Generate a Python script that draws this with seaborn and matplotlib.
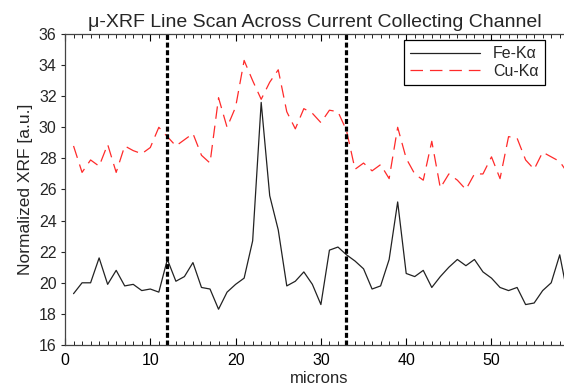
import numpy as np
import pandas as pd
import matplotlib
matplotlib.use("Agg")
import matplotlib.pyplot as plt
import seaborn as sns
from matplotlib.ticker import MultipleLocator

# ---- data ----
microns = list(range(1, 60))
fe_ka = [19.3, 20.0, 20.0, 21.6, 19.9, 20.8, 19.8, 19.9, 19.5, 19.6,
         19.4, 21.5, 20.1, 20.4, 21.3, 19.7, 19.6, 18.3, 19.4, 19.9,
         20.3, 22.7, 31.6, 25.6, 23.4, 19.8, 20.1, 20.7, 19.9, 18.6,
         22.1, 22.3, 21.8, 21.4, 20.9, 19.6, 19.8, 21.5, 25.2, 20.6,
         20.4, 20.8, 19.7, 20.4, 21.0, 21.5, 21.1, 21.5, 20.7, 20.3,
         19.7, 19.5, 19.7, 18.6, 18.7, 19.5, 20.0, 21.8, 19.0]
cu_ka = [28.8, 27.1, 27.9, 27.5, 28.9, 27.1, 28.8, 28.5, 28.3, 28.7,
         30.0, 29.4, 28.8, 29.2, 29.6, 28.2, 27.7, 31.9, 30.0, 31.3,
         34.3, 33.0, 31.8, 32.9, 33.7, 31.0, 29.9, 31.2, 30.9, 30.3,
         31.1, 31.0, 29.8, 27.3, 27.7, 27.2, 27.6, 26.7, 30.0, 28.0,
         27.0, 26.6, 29.1, 26.1, 27.0, 26.6, 26.0, 27.0, 27.0, 28.1,
         26.7, 29.4, 29.3, 27.9, 27.3, 28.4, 28.1, 27.8, 27.0]
series_names = ["Fe-K\u03b1", "Cu-K\u03b1"]
channel_edges = [12, 33]
title = "\u03bc-XRF Line Scan Across Current Collecting Channel"
x_label = "microns"
y_label = "Normalized XRF [a.u.]"

sns.set_theme(style="white")
plt.rcParams["font.family"] = ["Liberation Sans", "DejaVu Sans"]
plt.rcParams["lines.scale_dashes"] = False

fig = plt.figure(figsize=(5.64, 3.85), dpi=100)
W, H = 564, 385
left, right, top, bottom = 65, 564, 34, 345
ax = fig.add_axes([left / W, (H - bottom) / H, (right - left) / W, (bottom - top) / H])

df_fe = pd.DataFrame({"x": microns, "y": fe_ka})
df_cu = pd.DataFrame({"x": microns, "y": cu_ka})

sns.lineplot(data=df_fe, x="x", y="y", ax=ax, color="#222222", linewidth=0.9,
             estimator=None, sort=False, label=series_names[0])
sns.lineplot(data=df_cu, x="x", y="y", ax=ax, color="#ff2a2a", linewidth=0.9,
             estimator=None, sort=False, label=series_names[1])
ax.lines[1].set_dashes((9, 5))

for xe in channel_edges:
    ax.axvline(xe, color="black", linewidth=2.3, dashes=(3.6, 1.9))

ax.set_xlim(0, 58.5)
ax.set_ylim(16, 36)
ax.xaxis.set_major_locator(MultipleLocator(10))
ax.xaxis.set_minor_locator(MultipleLocator(1))
ax.yaxis.set_major_locator(MultipleLocator(2))

ax.tick_params(axis="x", which="both", direction="in", top=True, bottom=True,
               labelsize=11.5, pad=6, colors="black")
ax.tick_params(axis="x", which="major", length=5, width=0.8)
ax.tick_params(axis="x", which="minor", length=3, width=0.6)
ax.tick_params(axis="y", which="major", direction="out", left=True, length=3,
               width=0.8, labelsize=11.5, pad=3)

for s in ["left", "bottom", "top"]:
    ax.spines[s].set_color("#444444")
    ax.spines[s].set_linewidth(0.9)
ax.spines["right"].set_visible(False)

ax.set_xlabel(x_label, fontsize=12)
ax.xaxis.set_label_coords(0.51, -0.082)
ax.xaxis.label.set_va("top")
ax.set_ylabel(y_label, fontsize=12.5, labelpad=4)
ax.set_title(title, fontsize=14, pad=5)

leg = ax.legend(loc="upper right", bbox_to_anchor=(0.962, 0.981), borderaxespad=0,
                fontsize=11.5, frameon=True, fancybox=False, framealpha=1,
                edgecolor="black", handlelength=4.4, handletextpad=0.8,
                labelspacing=0.15, borderpad=0.4)
leg.get_frame().set_linewidth(0.9)

fig.savefig("out.png", dpi=100, facecolor="white")
